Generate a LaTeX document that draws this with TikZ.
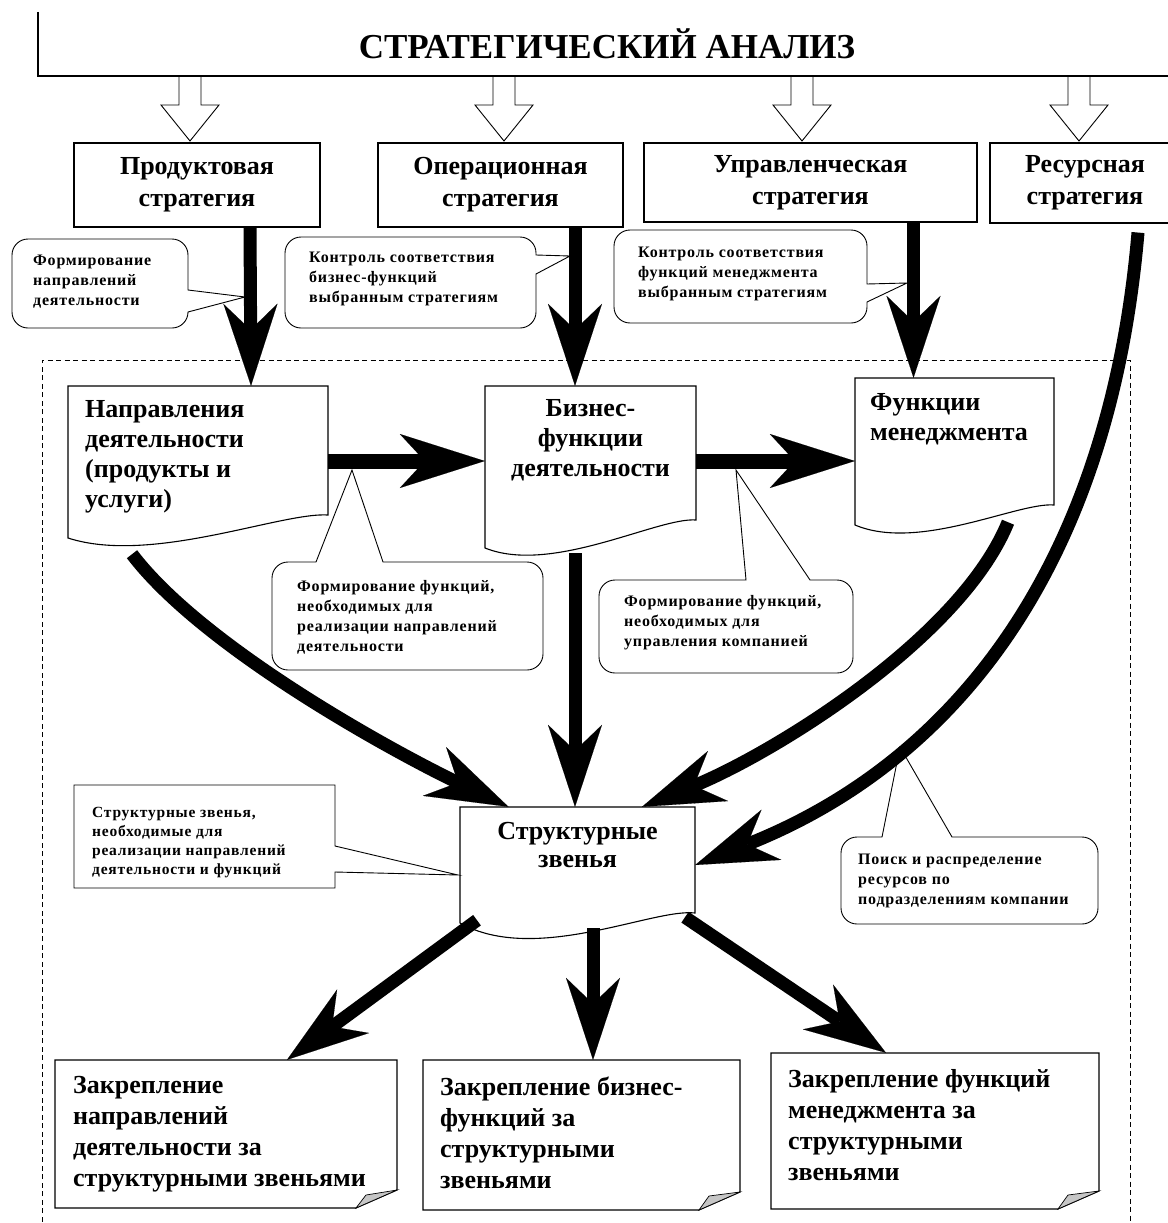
\documentclass[tikz,border=0pt]{standalone}
\usepackage{fontspec}
\setmainfont{Liberation Serif}
\newfontfamily\calfont{Liberation Serif}[LetterSpace=5]
\usetikzlibrary{arrows.meta,calc}
\newcommand\myTitle{\bfseries\fontsize{35}{40}\selectfont}
\newcommand\myStrat{\bfseries\fontsize{26}{32}\selectfont}
\newcommand\myBig{\bfseries\fontsize{26}{30}\selectfont}
\newcommand\myStr{\bfseries\fontsize{26}{28}\selectfont}
\newcommand\myNote{\bfseries\fontsize{26}{31}\selectfont}
\newcommand\mySmall{\calfont\bfseries\fontsize{16}{20}\selectfont}
\newcommand\mySmallB{\calfont\bfseries\fontsize{15.5}{19}\selectfont}
\tikzset{
  frame/.style={draw, line width=1.1pt},
  inv/.style={inner sep=0pt},
  txt/.style={font=\myBig, inner sep=0pt, align=left, anchor=north west},
  ctxt/.style={font=\mySmall, inner sep=0pt, align=left, anchor=north west},
  callout/.style={draw, line width=0.9pt, fill=white, rounded corners=16pt},
  bigarrow/.style={line width=13pt, -{Stealth[length=82pt,width=54pt,inset=26pt,line width=0.1pt]}},
  bigarrowh/.style={line width=15pt, -{Stealth[length=85pt,width=54pt,inset=25pt,line width=0.1pt]}},
  hollowarrow/.style={draw, line width=0.9pt, fill=white},
}
\begin{document}
\begin{tikzpicture}[x=1pt,y=-1pt]
\useasboundingbox (0,0) rectangle (1167,1223);
\fill[white] (0,0) rectangle (1167,1223);

% hollow arrows from the title
\foreach \cx in {190,504,802,1079}{
  \draw[hollowarrow] (\cx-11,76) -- (\cx-11,105) -- (\cx-29,105) -- (\cx,141) -- (\cx+29,105) -- (\cx+11,105) -- (\cx+11,76) -- cycle;
}
% title
\draw[frame] (38,12) -- (38,76) -- (1180,76);
\node[font=\myTitle] (title) at (607,44) {СТРАТЕГИЧЕСКИЙ АНАЛИЗ};

% strategies
\node[frame, minimum width=246pt, minimum height=84pt, font=\myStrat, align=center] (prod) at (197,185) {Продуктовая\\стратегия};
\node[frame, minimum width=245pt, minimum height=84pt, font=\myStrat, align=center] (op) at (500.5,185) {Операционная\\стратегия};
\node[frame, minimum width=333pt, minimum height=79pt, font=\myStrat, align=center] (upr) at (810.5,182.5) {Управленческая\\стратегия};
\node[frame, minimum width=190pt, minimum height=80pt, font=\myStrat, align=center] (res) at (1085,183) {Ресурсная\\стратегия};

% dashed region
\draw[line width=0.8pt, dash pattern=on 5pt off 3.5pt] (42,1230) -- (42,360) -- (1130,360) -- (1130,1230);

% invisible frames of the document shapes
\node[inv, minimum width=260pt, minimum height=152pt] (dir) at (198,462) {};
\node[inv, minimum width=211pt, minimum height=162pt] (biz) at (590.5,467) {};
\node[inv, minimum width=199pt, minimum height=147pt] (func) at (954.5,451.5) {};
\node[inv, minimum width=235pt, minimum height=116pt] (str) at (577.5,865) {};
\node[inv, minimum width=342pt, minimum height=148pt] (n1) at (226,1134) {};
\node[inv, minimum width=317pt, minimum height=150pt] (n2) at (581.5,1135) {};
\node[inv, minimum width=328pt, minimum height=156pt] (n3) at (935,1131) {};

% document outlines
\draw[frame, fill=white] (68,538) -- (68,386) -- (328,386) -- (328,515) .. controls (281,512) and (151,565) .. (68,538) -- cycle;
\draw[frame, fill=white] (485,548) -- (485,386) -- (696,386) -- (696,520) .. controls (658,517) and (552,575) .. (485,548) -- cycle;
\draw[frame, fill=white] (855,525) -- (855,378) -- (1054,378) -- (1054,505) .. controls (1018,502) and (919,552) .. (855,525) -- cycle;
\draw[frame, fill=white] (460,923) -- (460,807) -- (695,807) -- (695,913) .. controls (653,908) and (535,965) .. (460,923) -- cycle;

% notes with folded corner
\draw[frame, fill=white] (55,1060) -- (397,1060) -- (397,1190) -- (356,1208) -- (55,1208) -- cycle;
\filldraw[fill=gray!45, line width=0.7pt] (356,1208) -- (366,1195) -- (397,1190) -- cycle;
\draw[frame, fill=white] (423,1060) -- (740,1060) -- (740,1192) -- (699,1210) -- (423,1210) -- cycle;
\filldraw[fill=gray!45, line width=0.7pt] (699,1210) -- (709,1196) -- (740,1192) -- cycle;
\draw[frame, fill=white] (771,1053) -- (1099,1053) -- (1099,1191) -- (1058,1209) -- (771,1209) -- cycle;
\filldraw[fill=gray!45, line width=0.7pt] (1058,1209) -- (1068,1195) -- (1099,1191) -- cycle;

% callouts
\draw[callout] (12,280) -- (12,239) -- (188,239) [sharp corners] -- (188,290) -- (245,297) -- (188,312) [rounded corners=16pt] -- (188,328) -- (12,328) -- cycle;
\draw[callout] (285,280) -- (285,237) -- (536,237) [sharp corners] -- (536,255) -- (570,256) -- (536,274) [rounded corners=16pt] -- (536,328) -- (285,328) -- cycle;
\draw[callout] (614,280) -- (614,230) -- (867,230) [sharp corners] -- (867,284) -- (907,283) -- (867,302) [rounded corners=16pt] -- (867,323) -- (614,323) -- cycle;
\draw[callout] (272,620) -- (272,562) [sharp corners] -- (316,562) -- (352,470) -- (383,562) [rounded corners=16pt] -- (543,562) -- (543,670) -- (272,670) -- cycle;
\draw[callout] (599,630) -- (599,580) [sharp corners] -- (746,580) -- (736,470) -- (810,580) [rounded corners=16pt] -- (853,580) -- (853,673) -- (599,673) -- cycle;
\draw[line width=0.9pt, fill=white] (74,785) -- (335,785) -- (335,846) -- (458,875) -- (335,872) -- (335,888) -- (74,888) -- cycle;
\draw[callout] (841,880) -- (841,837) [sharp corners] -- (882,837) -- (900,747) -- (952,837) [rounded corners=16pt] -- (1098,837) -- (1098,924) -- (841,924) -- cycle;

% thick arrows
\draw[bigarrow] ([xshift=53pt]prod.south) -- ([xshift=53pt]dir.north);
\draw[bigarrow] ([xshift=74.5pt]op.south) -- ([xshift=-15.5pt]biz.north);
\draw[bigarrow] ([xshift=103pt]upr.south) -- ([xshift=-41pt]func.north);
\draw[bigarrowh] ([yshift=1pt]dir.east) -- ([yshift=1pt]dir.east -| biz.west);
\draw[bigarrowh] ([yshift=6pt]biz.east) -- ([yshift=6pt]biz.east -| func.west);
\draw[bigarrow] ([shift={(-66,16)}]dir.south) .. controls (205,650) and (400,755) .. ([xshift=-69pt]str.north);
\draw[bigarrow] ([shift={(-15.5,5)}]biz.south) -- ([xshift=-2.5pt]str.north);
\draw[bigarrow] ([shift={(53.5,-3)}]func.south) .. controls (960,640) and (770,755) .. ([xshift=64.5pt]str.north);
\draw[bigarrow] ([shift={(53,9)}]res.south) .. controls (1110,560) and (960,760) .. (str.east);
\draw[bigarrow] ([shift={(-100.5,-3)}]str.south) -- ([xshift=61pt]n1.north);
\draw[bigarrow] ([shift={(15.5,5)}]str.south) -- ([xshift=11.5pt]n2.north);
\draw[bigarrow] ([shift={(107.5,-6)}]str.south) -- ([xshift=-49pt]n3.north);

% texts of shapes
\node[txt] (dirt) at (85,400) {Направления\\деятельности\\(продукты и\\услуги)};
\node[txt, align=center, anchor=north] (bizt) at (590.5,399) {Бизнес-\\функции\\деятельности};
\node[txt] (funct) at (870,393) {Функции\\менеджмента};
\node[txt, font=\myStr, align=center, anchor=north] (strt) at (577.5,822) {Структурные\\звенья};
\node[txt, font=\myNote] (n1t) at (73,1076) {Закрепление\\направлений\\деятельности за\\структурными звеньями};
\node[txt, font=\myNote] (n2t) at (440,1077) {Закрепление бизнес-\\функций за\\структурными\\звеньями};
\node[txt, font=\myNote] (n3t) at (788,1069) {Закрепление функций\\менеджмента за\\структурными\\звеньями};

% callout texts
\node[ctxt] (c1) at (33,255) {Формирование\\направлений\\деятельности};
\node[ctxt] (c2) at (309,252) {Контроль соответствия\\бизнес-функций\\выбранным стратегиям};
\node[ctxt] (c3) at (638,247) {Контроль соответствия\\функций менеджмента\\выбранным стратегиям};
\node[ctxt] (c4) at (297,580) {Формирование функций,\\необходимых для\\реализации направлений\\деятельности};
\node[ctxt] (c5) at (624,595) {Формирование функций,\\необходимых для\\управления компанией};
\node[ctxt, font=\mySmallB] (c6) at (92,807) {Структурные звенья,\\необходимые для\\реализации направлений\\деятельности и функций};
\node[ctxt] (c7) at (858,854) {Поиск и распределение\\ресурсов по\\подразделениям компании};
\end{tikzpicture}
\end{document}
